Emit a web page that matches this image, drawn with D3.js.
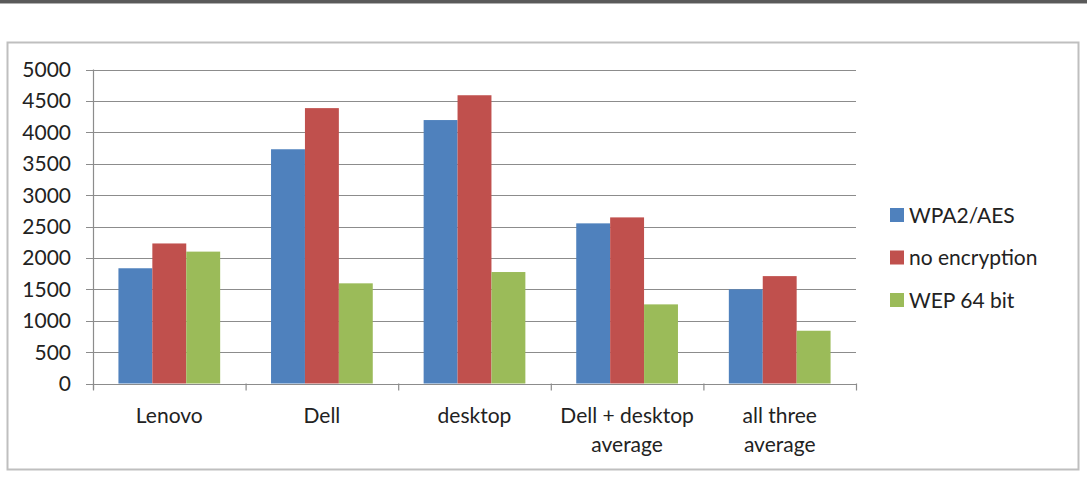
<!DOCTYPE html>
<html>
<head>
<meta charset="utf-8">
<script src="https://cdn.jsdelivr.net/npm/d3@7"></script>
<style>
  body { margin: 0; background: #fff; }
  text { font-family: Lato, "Open Sans", sans-serif; fill: #222; }
</style>
</head>
<body>
<div id="chart"></div>
<script>
var svgWidth = 1087;
var svgHeight = 477;

var categories = [["Lenovo"], ["Dell"], ["desktop"], ["Dell + desktop", "average"], ["all three", "average"]];
var seriesNames = ["WPA2/AES", "no encryption", "WEP 64 bit"];
var seriesColors = ["#4F81BD", "#C0504D", "#9BBB59"];
var wpa2 = [1835, 3730, 4195, 2550, 1500];
var noEnc = [2230, 4385, 4590, 2645, 1710];
var wep64 = [2100, 1595, 1775, 1260, 840];
var yTicks = [0, 500, 1000, 1500, 2000, 2500, 3000, 3500, 4000, 4500, 5000];

var plot = { left: 93, right: 856, top: 69.5, bottom: 383.5 };

var svg = d3.select("#chart")
    .append("svg")
    .attr("width", svgWidth)
    .attr("height", svgHeight);

// top rule of the page
svg.append("rect").attr("x", 0).attr("y", 0).attr("width", svgWidth).attr("height", 3).attr("fill", "#5a5a5a");
svg.append("rect").attr("x", 0).attr("y", 3).attr("width", svgWidth).attr("height", 1).attr("fill", "#b0b0b0");

// chart frame
svg.append("rect")
    .attr("x", 7.5).attr("y", 42.5)
    .attr("width", 1071).attr("height", 427)
    .attr("fill", "#fff")
    .attr("stroke", "#bfbfbf")
    .attr("stroke-width", 2);

var idx = d3.range(categories.length);

// category slots, no gap between them
var x0 = d3.scaleBand()
    .domain(idx)
    .range([plot.left, plot.right]);

// bars inside a slot, gap width 150%
var x1 = d3.scaleBand()
    .domain(d3.range(seriesNames.length))
    .range([0, x0.bandwidth()])
    .paddingOuter(0.75)
    .paddingInner(0);

var y = d3.scaleLinear()
    .domain([0, 5000])
    .range([plot.bottom, plot.top]);

// gridlines
svg.append("g")
    .selectAll("line")
    .data(yTicks)
    .enter()
    .append("line")
    .attr("x1", plot.left - 7)
    .attr("x2", plot.right)
    .attr("y1", d => Math.round(y(d)) + 0.5)
    .attr("y2", d => Math.round(y(d)) + 0.5)
    .attr("stroke", "#8c8c8c")
    .attr("stroke-width", 1.2);

// y labels
svg.append("g")
    .selectAll("text")
    .data(yTicks)
    .enter()
    .append("text")
    .attr("x", 71)
    .attr("y", d => y(d) + 7.5)
    .attr("text-anchor", "end")
    .style("font-size", "21px")
    .text(d => d);

// bars
var allSeries = [wpa2, noEnc, wep64];
allSeries.forEach(function(vals, s) {
    svg.append("g")
        .selectAll("rect")
        .data(vals)
        .enter()
        .append("rect")
        .attr("x", (d, i) => x0(i) + x1(s))
        .attr("y", d => y(d))
        .attr("width", x1.bandwidth())
        .attr("height", d => y(0) - y(d))
        .attr("fill", seriesColors[s]);
});

// axes lines
svg.append("line")
    .attr("x1", plot.left + 0.5).attr("x2", plot.left + 0.5)
    .attr("y1", plot.top).attr("y2", plot.bottom + 6)
    .attr("stroke", "#8c8c8c").attr("stroke-width", 1.2);

svg.append("line")
    .attr("x1", plot.left).attr("x2", plot.right)
    .attr("y1", Math.round(plot.bottom) + 0.5).attr("y2", Math.round(plot.bottom) + 0.5)
    .attr("stroke", "#8c8c8c").attr("stroke-width", 1.2);

svg.append("g")
    .selectAll("line")
    .data(d3.range(categories.length + 1))
    .enter()
    .append("line")
    .attr("x1", i => plot.left + i * x0.step() + 0.5)
    .attr("x2", i => plot.left + i * x0.step() + 0.5)
    .attr("y1", plot.bottom)
    .attr("y2", plot.bottom + 7)
    .attr("stroke", "#8c8c8c").attr("stroke-width", 1.2);

// category labels
var catText = svg.append("g")
    .selectAll("text")
    .data(categories)
    .enter()
    .append("text")
    .attr("text-anchor", "middle")
    .style("font-size", "21px");

catText.selectAll("tspan")
    .data((d, i) => d.map(line => ({ line: line, i: i })))
    .enter()
    .append("tspan")
    .attr("x", d => x0(d.i) + x0.bandwidth() / 2)
    .attr("y", (d, j) => 423 + j * 29)
    .text(d => d.line);

// legend
var legend = svg.append("g")
    .selectAll("g")
    .data(seriesNames)
    .enter()
    .append("g")
    .attr("transform", (d, i) => `translate(890, ${215 + i * 42.5})`);

legend.append("rect")
    .attr("x", 0).attr("y", -7)
    .attr("width", 14).attr("height", 14)
    .attr("fill", (d, i) => seriesColors[i]);

legend.append("text")
    .attr("x", 19)
    .attr("y", 7.5)
    .style("font-size", "21px")
    .text(d => d);
</script>
</body>
</html>
